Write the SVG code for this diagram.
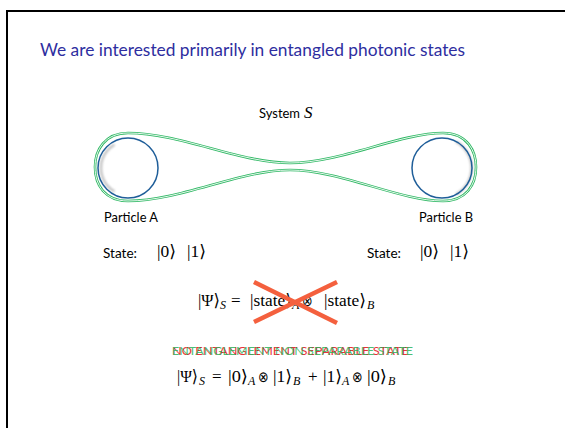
<svg xmlns="http://www.w3.org/2000/svg" width="565" height="428" viewBox="0 0 565 428">
<defs>
<style>
.sans{font-family:Lato,"Liberation Sans","DejaVu Sans",sans-serif;fill:#000}
.math{font-family:"Liberation Serif","DejaVu Serif",serif;fill:#000;font-size:17px}
.op{font-family:"DejaVu Sans","Liberation Serif",serif;font-weight:200;fill:#000;font-size:15px}
.sub{font-family:"Liberation Serif","DejaVu Serif",serif;font-size:12px;font-style:italic;fill:#000}
.circ{fill:none;stroke:#1f5e99;stroke-width:1.5}
.shadow{fill:none;stroke:#8a8a8a;stroke-width:2.5;opacity:0.5}
.outline{fill:none;stroke:#2fb864;stroke-width:2.6}
.gap{fill:none;stroke:#fff;stroke-width:0.9}
</style>
<filter id="blur" x="-50%" y="-50%" width="200%" height="200%"><feGaussianBlur stdDeviation="1.2"/></filter>
<path id="sys" d="M290,163 C340,163 400,133 443,133 C468,133 476,152 476,167 C476,185 466,201 443,201 C400,201 340,170 290,170 C240,170 180,201 128,201 C105,201 95,185 95,167 C95,150 105,133 128,133 C180,133 240,163 290,163 Z"/>
</defs>
<rect x="7" y="11" width="600" height="500" fill="#fff" stroke="#000" stroke-width="2"/>
<text x="40" y="56" font-family="Lato, Liberation Sans, DejaVu Sans, sans-serif" font-size="16.5" fill="#2e2ea0" textLength="425" lengthAdjust="spacingAndGlyphs">We are interested primarily in entangled photonic states</text>

<g id="system">
<text class="sans" x="259" y="118" font-size="12.5" textLength="41" lengthAdjust="spacingAndGlyphs">System</text>
<text class="math" x="304" y="118" font-style="italic" font-size="17">S</text>
<use href="#sys" class="outline"/>
<use href="#sys" class="gap"/>
</g>

<g id="particleA">
<path class="shadow" filter="url(#blur)" d="M114.5,144.6 A27,27 0 0 0 114.5,191.4"/>
<circle class="circ" cx="128" cy="168" r="30"/>
<text class="sans" x="104" y="222" font-size="12.5" textLength="54" lengthAdjust="spacingAndGlyphs">Particle A</text>
<text class="sans" x="103" y="258" font-size="12.5" textLength="34" lengthAdjust="spacingAndGlyphs">State:</text>
<text class="math" x="157" y="257" font-size="16" textLength="19" lengthAdjust="spacingAndGlyphs">|0⟩</text>
<text class="math" x="187" y="257" font-size="16" textLength="19" lengthAdjust="spacingAndGlyphs">|1⟩</text>
</g>

<g id="particleB">
<path class="shadow" filter="url(#blur)" d="M456,141.7 A30,30 0 0 1 456,194.3"/>
<circle class="circ" cx="442" cy="168" r="30"/>
<text class="sans" x="419" y="222" font-size="12.5" textLength="54" lengthAdjust="spacingAndGlyphs">Particle B</text>
<text class="sans" x="367" y="258" font-size="12.5" textLength="34" lengthAdjust="spacingAndGlyphs">State:</text>
<text class="math" x="420" y="257" font-size="16" textLength="19" lengthAdjust="spacingAndGlyphs">|0⟩</text>
<text class="math" x="450" y="257" font-size="16" textLength="19" lengthAdjust="spacingAndGlyphs">|1⟩</text>
</g>

<g id="eq1">
<text class="math" x="198" y="306" textLength="22" lengthAdjust="spacingAndGlyphs">|Ψ⟩</text>
<text class="sub" x="220" y="309">S</text>
<text class="math" x="231" y="306">=</text>
<text class="math" x="250" y="306" textLength="42" lengthAdjust="spacingAndGlyphs">|state⟩</text>
<text class="sub" x="292" y="309">A</text>
<text class="op" x="302" y="306" textLength="11" lengthAdjust="spacingAndGlyphs">⊗</text>
<text class="math" x="324" y="306" textLength="42" lengthAdjust="spacingAndGlyphs">|state⟩</text>
<text class="sub" x="367" y="309">B</text>
<path d="M254,282 L337,323 M337,282 L254,322" stroke="#f4603e" stroke-width="4.5" fill="none"/>
</g>

<g id="labels">
<text x="172" y="355" font-family="Lato, Liberation Sans, DejaVu Sans, sans-serif" font-size="11.5" fill="#e8323a" textLength="237" lengthAdjust="spacingAndGlyphs">NO ENTANGLEMENT SEPARABLE STATE</text>
<text x="172" y="355" font-family="Lato, Liberation Sans, DejaVu Sans, sans-serif" font-size="11.5" fill="#2db35c" fill-opacity="0.85" textLength="241" lengthAdjust="spacingAndGlyphs">ENTANGLEMENT NON SEPARABLE STATE</text>
</g>

<g id="eq2">
<text class="math" x="177" y="382" textLength="21" lengthAdjust="spacingAndGlyphs">|Ψ⟩</text>
<text class="sub" x="199" y="385">S</text>
<text class="math" x="212" y="382">=</text>
<text class="math" x="228" y="382" textLength="20" lengthAdjust="spacingAndGlyphs">|0⟩</text>
<text class="sub" x="248" y="385">A</text>
<text class="op" x="258" y="382" textLength="11" lengthAdjust="spacingAndGlyphs">⊗</text>
<text class="math" x="273" y="382" textLength="19" lengthAdjust="spacingAndGlyphs">|1⟩</text>
<text class="sub" x="293" y="385">B</text>
<text class="math" x="308" y="382">+</text>
<text class="math" x="323" y="382" textLength="19" lengthAdjust="spacingAndGlyphs">|1⟩</text>
<text class="sub" x="342" y="385">A</text>
<text class="op" x="352" y="382" textLength="11" lengthAdjust="spacingAndGlyphs">⊗</text>
<text class="math" x="367" y="382" textLength="20" lengthAdjust="spacingAndGlyphs">|0⟩</text>
<text class="sub" x="388" y="385">B</text>
</g>
</svg>
